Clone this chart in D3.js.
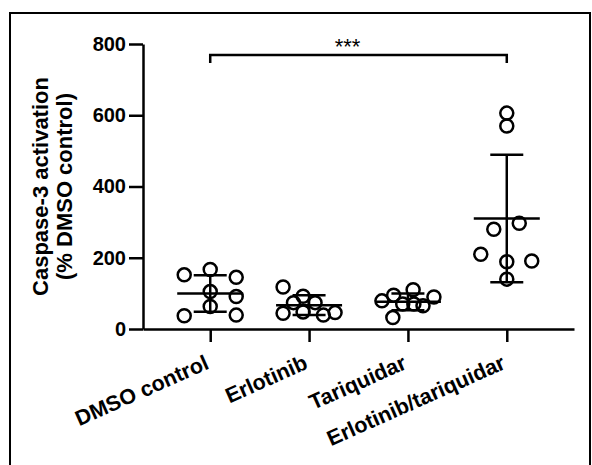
<!DOCTYPE html>
<html>
<head>
<meta charset="utf-8">
<script src="https://cdn.jsdelivr.net/npm/d3@7"></script>
<style>
  body { margin: 0; background: white; }
  svg { display: block; }
</style>
</head>
<body>
<div id="chart"></div>
<script>
// data

var categories = ["DMSO control", "Erlotinib", "Tariquidar", "Erlotinib/tariquidar"];
var dmso       = [167, 152, 145, 105, 91, 63, 37, 39];
var erlotinib  = [118, 92, 74, 74, 44, 48, 39, 46];
var tariquidar = [79, 95, 110, 90, 32, 70, 70, 65];
var combo      = [606, 570, 297, 280, 210, 189, 191, 140];
var yTicks     = [0, 200, 400, 600, 800];
var signif     = "***";

// horizontal scatter of the points inside a column (-1 = left edge, 1 = right edge)
var dmsoJit       = [0, -1, 1, 0, 1, 0, -1, 1];
var erlotinibJit  = [-1, -0.23, -0.6, 0.23, -1, -0.23, 0.55, 1];
var tariquidarJit = [-1, -0.55, 0.2, 1, -0.58, -0.2, 0.23, 0.58];
var comboJit      = [0, 0, 0.48, -0.5, -1, 0, 0.96, 0];

var groups = [
  {name: categories[0], values: dmso, jit: dmsoJit},
  {name: categories[1], values: erlotinib, jit: erlotinibJit},
  {name: categories[2], values: tariquidar, jit: tariquidarJit},
  {name: categories[3], values: combo, jit: comboJit}
];

// parameters
var WIDTH = 592;
var HEIGHT = 465;
var FONT = "'Liberation Sans', Arial, Helvetica, sans-serif";
var LW = 2.5;        // line width of axes and bars
var RADIUS = 6.5;    // circle marker
var MEANHALF = 33;   // half length of the mean line
var CAPHALF = 16.5;  // half length of the SD caps

var svg = d3.select("#chart").append("svg")
  .attr("width", WIDTH)
  .attr("height", HEIGHT);

// outer frame
svg.append("path")
  .attr("d", "M10,470 L10,13 L590,13 L590,470")
  .attr("fill", "none")
  .attr("stroke", "black")
  .attr("stroke-width", 2);

// scales
var x = d3.scalePoint()
  .domain(categories)
  .range([143, 574])
  .padding(0.68);
var y = d3.scaleLinear()
  .domain([0, 800])
  .range([329, 44]);
var jitter = d3.scaleLinear()
  .domain([-1, 1])
  .range([-26, 26]);

// y axis
var yAxis = svg.append("g")
  .attr("transform", "translate(143,0)")
  .call(d3.axisLeft(y).tickValues(yTicks).tickSize(14).tickSizeOuter(0).tickPadding(3));
yAxis.select(".domain").attr("stroke-width", LW);
yAxis.selectAll(".tick line").attr("stroke-width", LW);
yAxis.selectAll("text")
  .attr("font-family", FONT)
  .attr("font-size", "20px")
  .attr("font-weight", "bold")
  .attr("fill", "black");

// x axis
var xAxis = svg.append("g")
  .attr("transform", "translate(0,329)")
  .call(d3.axisBottom(x).tickSize(13).tickSizeOuter(0).tickFormat(""));
xAxis.select(".domain").attr("stroke-width", LW);
xAxis.selectAll(".tick line").attr("stroke-width", LW);

// category labels, rotated
svg.selectAll(".catlabel")
  .data(categories)
  .enter().append("text")
  .attr("class", "catlabel")
  .attr("transform", function(d){ return "translate(" + x(d) + ",368) rotate(-24)"; })
  .attr("text-anchor", "end")
  .attr("font-family", FONT)
  .attr("font-size", "21.5px")
  .attr("font-weight", "bold")
  .text(function(d){ return d; });

// y axis title (two lines)
var title = svg.append("text")
  .attr("transform", "translate(0," + ((y(0) + y(800)) / 2) + ") rotate(-90)")
  .attr("text-anchor", "middle")
  .attr("font-family", FONT)
  .attr("font-size", "22px")
  .attr("font-weight", "bold");
title.append("tspan").attr("x", 0).attr("y", 48).text("Caspase-3 activation");
title.append("tspan").attr("x", 0).attr("y", 72).text("(% DMSO control)");

// points, mean and SD for each group
groups.forEach(function(g){
  var cx = x(g.name);
  var m = d3.mean(g.values);
  var sd = d3.deviation(g.values);
  var grp = svg.append("g");

  grp.selectAll("circle")
    .data(g.values)
    .enter().append("circle")
    .attr("cx", function(d, i){ return cx + jitter(g.jit[i]); })
    .attr("cy", function(d){ return y(d); })
    .attr("r", RADIUS)
    .attr("fill", "none")
    .attr("stroke", "black")
    .attr("stroke-width", LW);

  // error bar
  grp.append("line")
    .attr("x1", cx).attr("x2", cx)
    .attr("y1", y(m + sd)).attr("y2", y(m - sd))
    .attr("stroke", "black").attr("stroke-width", LW);
  [m + sd, m - sd].forEach(function(v){
    grp.append("line")
      .attr("x1", cx - CAPHALF).attr("x2", cx + CAPHALF)
      .attr("y1", y(v)).attr("y2", y(v))
      .attr("stroke", "black").attr("stroke-width", LW);
  });
  // mean
  grp.append("line")
    .attr("x1", cx - MEANHALF).attr("x2", cx + MEANHALF)
    .attr("y1", y(m)).attr("y2", y(m))
    .attr("stroke", "black").attr("stroke-width", LW);
});

// significance bracket
var bx1 = x(categories[0]);
var bx2 = x(categories[3]);
svg.append("path")
  .attr("d", "M" + bx1 + ",63 L" + bx1 + ",55 L" + bx2 + ",55 L" + bx2 + ",63")
  .attr("fill", "none")
  .attr("stroke", "black")
  .attr("stroke-width", LW);
svg.append("text")
  .attr("x", (bx1 + bx2) / 2 - 11)
  .attr("y", 54)
  .attr("text-anchor", "middle")
  .attr("font-family", FONT)
  .attr("font-size", "22px")
  .text(signif);
</script>
</body>
</html>
